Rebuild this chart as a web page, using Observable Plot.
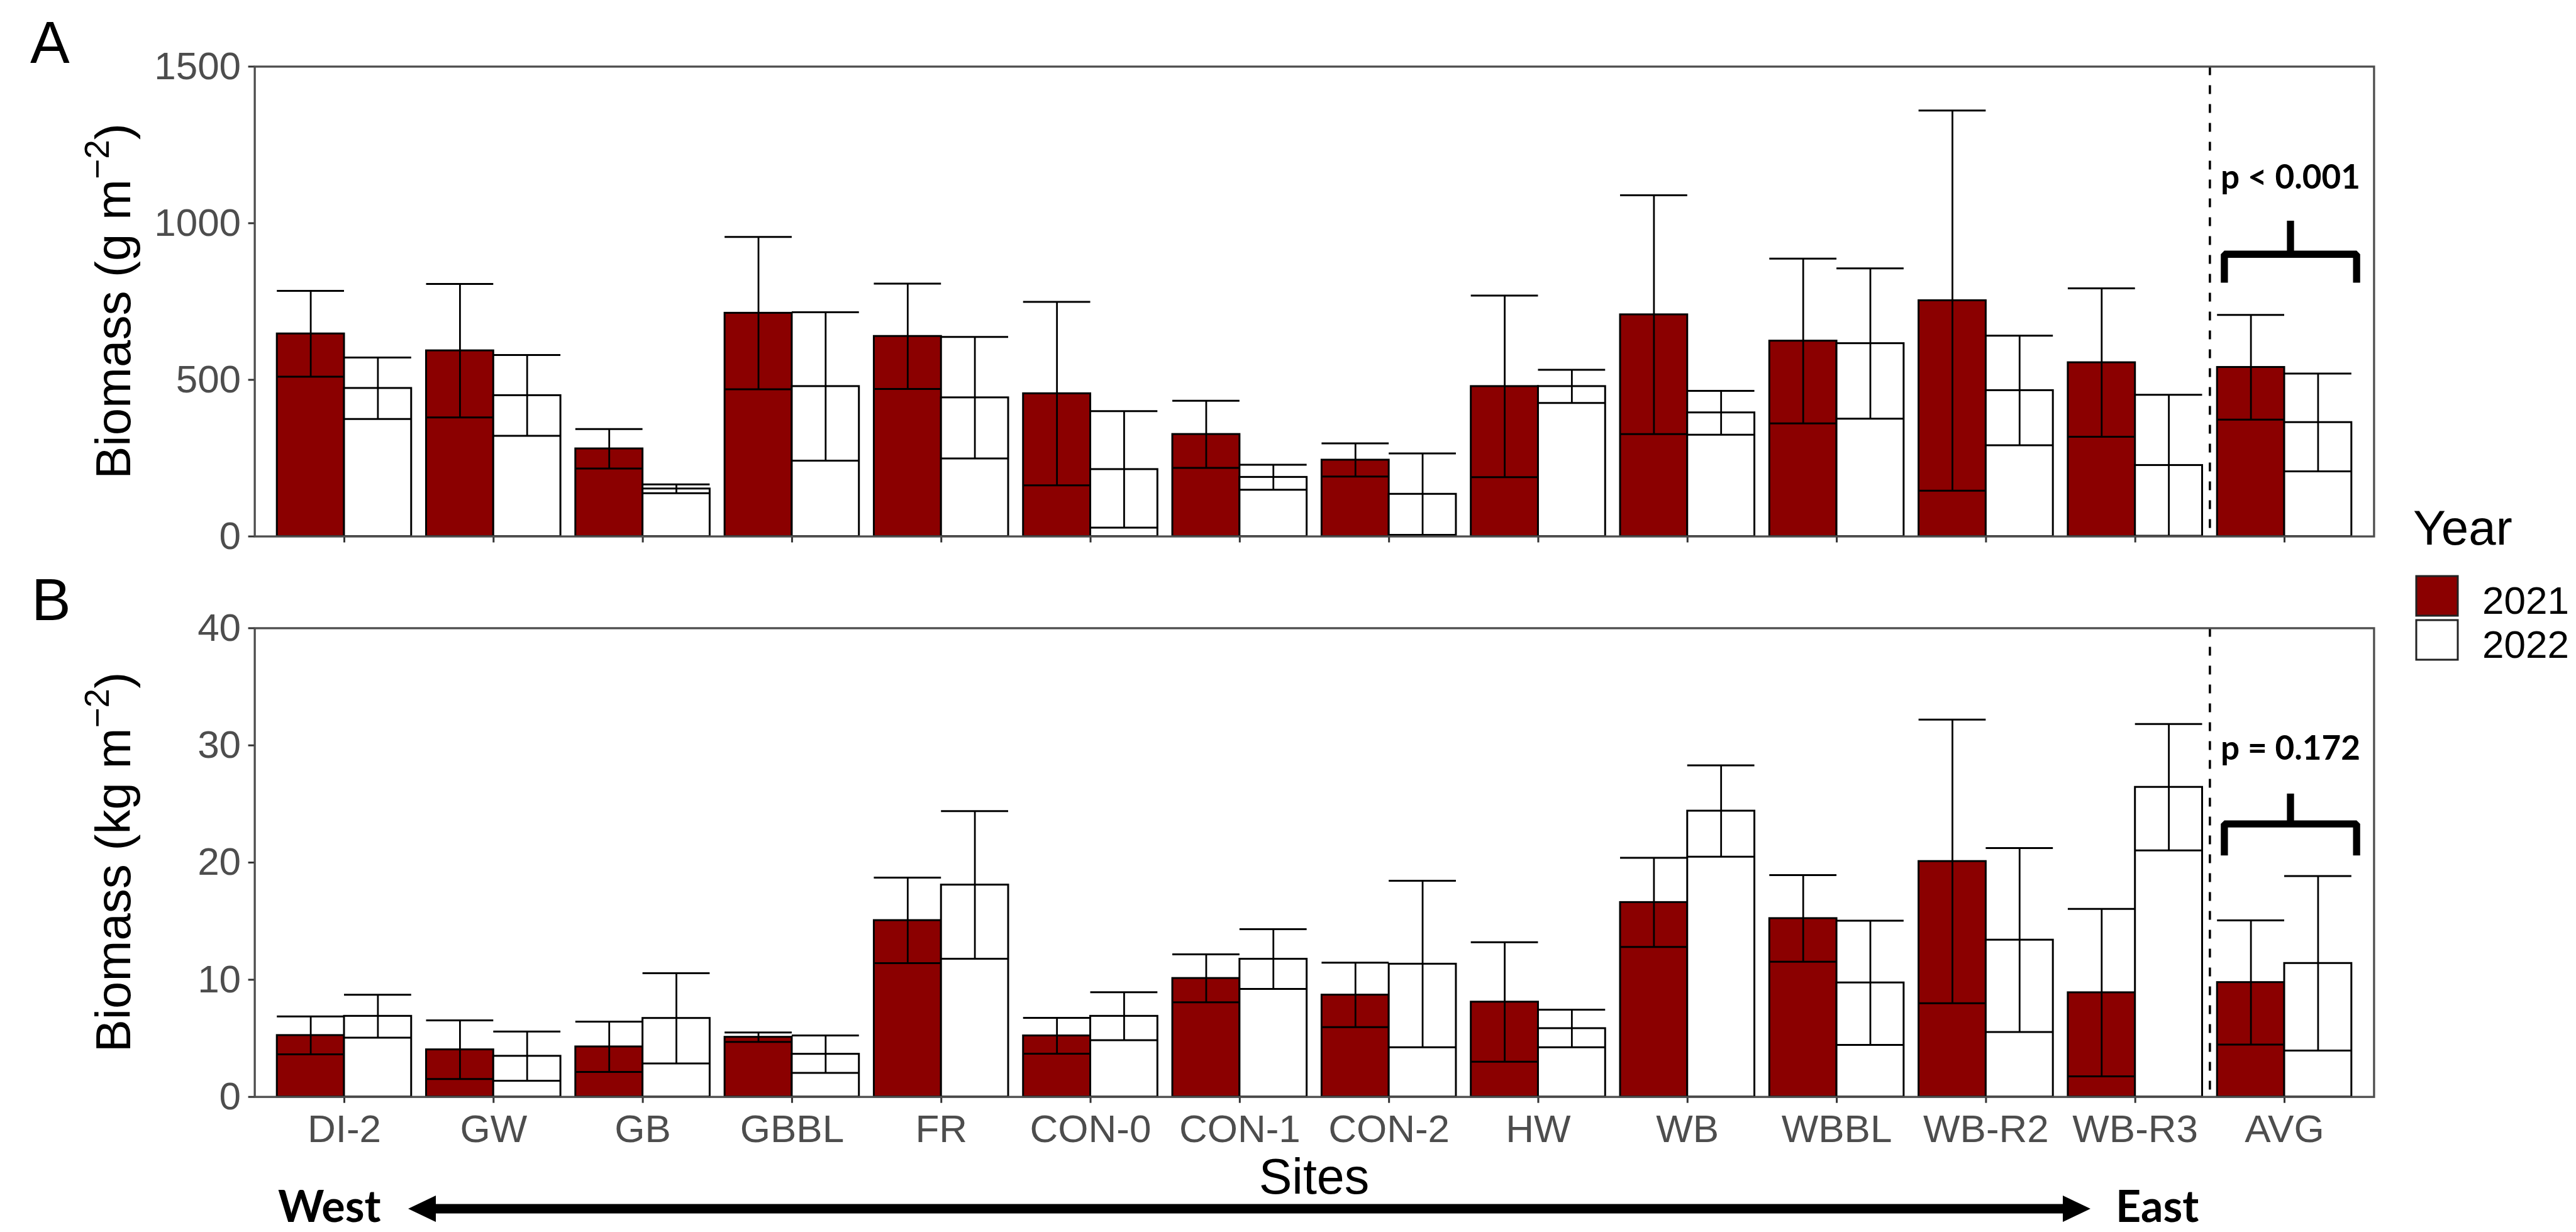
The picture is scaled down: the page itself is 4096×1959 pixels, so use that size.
<!DOCTYPE html>
<html><head><meta charset="utf-8">
<script src="https://cdn.jsdelivr.net/npm/d3@7"></script>
<script src="https://cdn.jsdelivr.net/npm/@observablehq/plot@0.6"></script>
<style>
body{margin:0;background:#fff;}
#wrap{position:relative;width:4096px;height:1959px;overflow:hidden;background:#fff;}
#wrap > svg{position:absolute;left:0;}
</style></head><body><div id="wrap"></div>
<script>
// ---------- data ----------
const sites = ["DI-2","GW","GB","GBBL","FR","CON-0","CON-1","CON-2","HW","WB","WBBL","WB-R2","WB-R3","AVG"];
const years = [2021, 2022];
// Panel A: biomass (g m-2), mean and standard error
const mean2021A = [647, 593, 280, 713, 639, 456, 326, 244, 479, 708, 624, 753, 555, 540];
const se2021A   = [137, 213, 63, 243, 168, 293, 107, 53, 290, 381, 263, 607, 237, 167];
const mean2022A = [473, 450, 152, 479, 443, 214, 189, 135, 479, 395, 616, 466, 227, 364];
const se2022A   = [98, 129, 14, 237, 194, 186, 40, 130, 53, 70, 240, 175, 225, 156];
// Panel B: biomass (kg m-2)
const mean2021B = [5.25, 4.03, 4.28, 5.1, 15.06, 5.22, 10.12, 8.7, 8.1, 16.6, 15.23, 20.1, 8.9, 9.77];
const se2021B   = [1.62, 2.5, 2.15, 0.4, 3.65, 1.53, 2.05, 2.75, 5.1, 3.8, 3.7, 12.1, 7.15, 5.3];
const mean2022B = [6.89, 3.48, 6.71, 3.65, 18.09, 6.89, 11.76, 11.34, 5.84, 24.4, 9.74, 13.39, 26.43, 11.4];
const se2022B   = [1.83, 2.1, 3.85, 1.6, 6.3, 2.05, 2.55, 7.1, 1.6, 3.9, 5.3, 7.85, 5.4, 7.45];
const yTicksA = [0, 500, 1000, 1500];
const yTicksB = [0, 10, 20, 30, 40];
// significance brackets (y values) and labels
const bracketA = {label: "p < 0.001", text: 1111, top: 1007, mid: 901, low: 810};
const bracketB = {label: "p = 0.172", text: 28.8, top: 25.86, mid: 23.3, low: 20.6};

// ---------- layout ----------
const W = 4096, H = 1959;
const L = 404.6, R = 3774.4;
const FONT = "'Liberation Sans', Arial, Helvetica, sans-serif";
const BOLD = "Lato, 'Open Sans', sans-serif";
const fills = ["#8B0000", "#ffffff"];

function rows(m21, s21, m22, s22) {
  return sites.flatMap((s, i) => [
    {i, site: s, year: 2021, mean: m21[i], se: s21[i]},
    {i, site: s, year: 2022, mean: m22[i], se: s22[i]}
  ]);
}
const half = 0.45;
const bx1 = d => d.year === 2021 ? d.i - half : d.i;
const bx2 = d => d.year === 2021 ? d.i : d.i + half;
const bxc = d => (bx1(d) + bx2(d)) / 2;

function panel({data, yDomain, yTicks, br, height, marginTop, marginBottom, labels}) {
  const avg = sites.length - 1;
  const bc = avg + 0.04, bh = 0.443;
  const pts = [
    {x: bc - bh, y: br.low}, {x: bc - bh, y: br.mid},
    {x: bc + bh, y: br.mid}, {x: bc + bh, y: br.low}
  ];
  return Plot.plot({
    width: W, height,
    marginLeft: L, marginRight: W - R, marginTop, marginBottom,
    style: {background: "transparent", fontFamily: FONT, overflow: "visible"},
    x: {domain: [-0.6, sites.length - 0.4]},
    y: {domain: yDomain},
    color: {type: "ordinal", domain: years, range: fills},
    marks: [
      Plot.rect(data, {x1: bx1, x2: bx2, y1: 0, y2: "mean", fill: "year", stroke: "#000", strokeWidth: 3}),
      Plot.ruleX(data, {x: bxc, y1: d => d.mean - d.se, y2: d => d.mean + d.se, stroke: "#000", strokeWidth: 2.8}),
      Plot.ruleY(data, {x1: bx1, x2: bx2, y: d => d.mean + d.se, stroke: "#000", strokeWidth: 3}),
      Plot.ruleY(data, {x1: bx1, x2: bx2, y: d => d.mean - d.se, stroke: "#000", strokeWidth: 3}),
      Plot.ruleX([avg - 0.5], {stroke: "#000", strokeWidth: 3.6, strokeDasharray: "14 16"}),
      Plot.line(pts, {x: "x", y: "y", stroke: "#000", strokeWidth: 11.3, strokeLinejoin: "miter", strokeLinecap: "butt"}),
      Plot.ruleX([br], {x: () => bc, y1: "mid", y2: "top", stroke: "#000", strokeWidth: 11.3}),
      Plot.text([br], {x: () => bc, y: "text", text: "label", lineAnchor: "bottom", textAnchor: "middle",
        fontFamily: BOLD, fontWeight: "bold", fontSize: 53, fill: "#000"}),
      Plot.axisY(yTicks, {tickSize: 10, tickPadding: 12, tickFormat: d => String(d), fontSize: 62,
        stroke: "#333", fill: "#4d4d4d", strokeWidth: 3, label: null}),
      Plot.axisX(d3.range(sites.length), {tickSize: 10, tickPadding: 18,
        tickFormat: labels ? (i => sites[i]) : (() => ""), fontSize: 62,
        stroke: "#333", fill: "#4d4d4d", strokeWidth: 3, label: null}),
      Plot.frame({stroke: "#4d4d4d", strokeWidth: 3.3})
    ]
  });
}

const wrap = document.getElementById("wrap");
const svgA = panel({data: rows(mean2021A, se2021A, mean2022A, se2022A), yDomain: [0, 1500], yTicks: yTicksA,
  br: bracketA, height: 925, marginTop: 105.4, marginBottom: 925 - 852.5, labels: false});
svgA.style.top = "0px";
wrap.appendChild(svgA);
const svgB = panel({data: rows(mean2021B, se2021B, mean2022B, se2022B), yDomain: [0, 40], yTicks: yTicksB,
  br: bracketB, height: 1034, marginTop: 998.4 - 925, marginBottom: 1959 - 1743.7, labels: true});
svgB.style.top = "925px";
wrap.appendChild(svgB);

// ---------- titles, legend, arrow ----------
const ov = d3.select(wrap).append("svg").attr("width", W).attr("height", H)
  .style("top", "0px").style("pointer-events", "none");

ov.append("text").attr("x", 48).attr("y", 100).attr("font-family", FONT).attr("font-size", 94).text("A");
ov.append("text").attr("x", 50).attr("y", 986).attr("font-family", FONT).attr("font-size", 94).text("B");

function ytitle(cy, unit) {
  const t = ov.append("text").attr("transform", `translate(207,${cy}) rotate(-90)`)
    .attr("text-anchor", "middle").attr("font-family", FONT).attr("font-size", 78).attr("fill", "#000");
  t.append("tspan").text(`Biomass (${unit} m`);
  t.append("tspan").attr("dy", -34).attr("font-size", 55).text("\u22122");
  t.append("tspan").attr("dy", 34).text(")");
}
ytitle((105.4 + 852.5) / 2, "g");
ytitle((998.4 + 1743.7) / 2, "kg");

ov.append("text").attr("x", (L + R) / 2).attr("y", 1898).attr("text-anchor", "middle")
  .attr("font-family", FONT).attr("font-size", 79).text("Sites");

// West-East arrow
const ay = 1922, axL = 649, axR = 3324, hl = 44, hh = 21;
ov.append("line").attr("x1", axL + hl - 4).attr("x2", axR - hl + 4).attr("y1", ay).attr("y2", ay)
  .attr("stroke", "#000").attr("stroke-width", 15);
ov.append("path").attr("d", `M${axL},${ay}L${axL + hl},${ay - hh}L${axL + hl},${ay + hh}Z`).attr("fill", "#000");
ov.append("path").attr("d", `M${axR},${ay}L${axR - hl},${ay - hh}L${axR - hl},${ay + hh}Z`).attr("fill", "#000");
ov.append("text").attr("x", 442).attr("y", 1943).attr("font-family", BOLD).attr("font-weight", "bold")
  .attr("font-size", 70).text("West");
ov.append("text").attr("x", 3364).attr("y", 1943).attr("font-family", BOLD).attr("font-weight", "bold")
  .attr("font-size", 70).text("East");

// legend
ov.append("text").attr("x", 3837).attr("y", 866).attr("font-family", FONT).attr("font-size", 78).text("Year");
years.forEach((yr, k) => {
  const y0 = 916 + k * 70;
  ov.append("rect").attr("x", 3842).attr("y", y0).attr("width", 66).attr("height", 63)
    .attr("fill", fills[k]).attr("stroke", "#222").attr("stroke-width", 3);
  ov.append("text").attr("x", 3947).attr("y", y0 + 60).attr("font-family", FONT).attr("font-size", 62)
    .attr("fill", "#000").text(String(yr));
});
</script></body></html>
